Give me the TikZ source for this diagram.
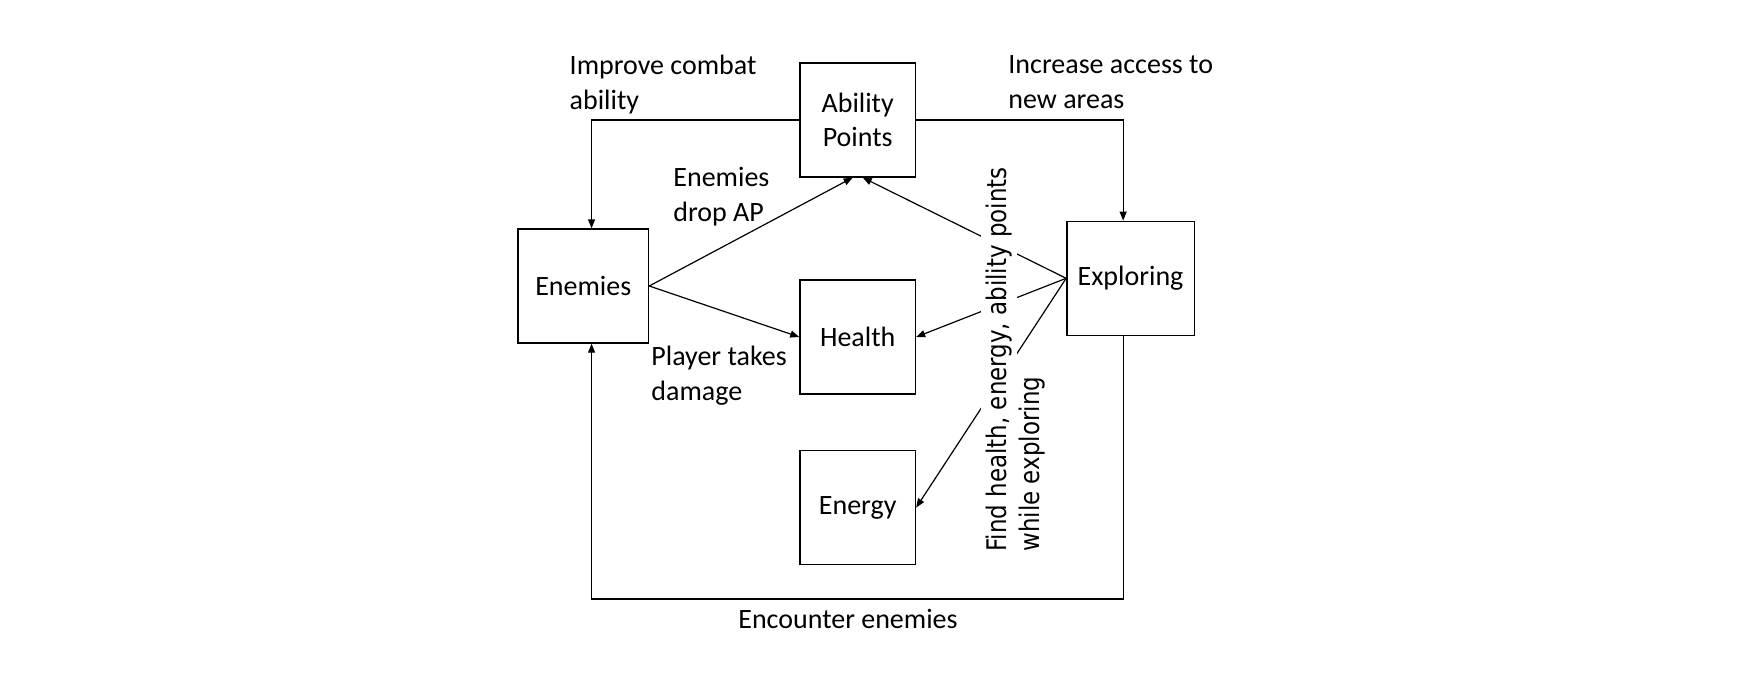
\documentclass[tikz,border=0pt]{standalone}
\usepackage{fontspec}
\setmainfont{Carlito}
\newfontfamily\rotfont[FakeStretch=0.85]{DejaVu Sans}
\usepackage{tikz}
\usetikzlibrary{arrows.meta,positioning}

\begin{document}
\begin{tikzpicture}[
    x=0.5pt, y=-0.5pt,
    every node/.style={font=\fontsize{14}{17.4}\selectfont},
    stat/.style={
      rectangle, draw, line width=0.7pt, inner sep=0pt,
      minimum width=57.75pt, minimum height=57pt,
      align=center
    },
    lbl/.style={inner sep=0pt, align=left},
    vlbl/.style={font=\rotfont\fontsize{13.5}{16}\selectfont, rotate=90,
      fill=white, inner xsep=0pt, inner ysep=2.5pt},
    arr/.style={-{Triangle[length=4.5pt,width=3.5pt]}, line width=0.6pt}
  ]
    \useasboundingbox (0,0) rectangle (1738,680);

    % ── Stats ──
    \node[stat] (ap) at (857.7,119.9) {Ability\\Points};
    \node[stat, below=50.85pt of ap] (health) {Health};
    \node[stat, below=27.6pt of health] (energy) {Energy};

    % ── Activities ──
    \node[stat, minimum width=65.3pt, left=75pt of health, yshift=25.5pt] (enemies) {Enemies};
    \node[stat, minimum width=63.7pt, right=75pt of health, yshift=29.35pt] (exploring) {Exploring};

    % ── Loops round the outside ──
    \draw[arr] (ap.west) -| ([xshift=4.15pt]enemies.north);
    \draw[arr] (ap.east) -| ([xshift=-3.7pt]exploring.north);
    \draw[arr] ([xshift=-3.7pt]exploring.south) -- ++(0,263) -| ([xshift=4.15pt]enemies.south);

    % ── Arrows: Enemies -> stats ──
    \draw[arr] (enemies.east) -- ([xshift=-2.5pt]ap.south);
    \draw[arr] (enemies.east) -- (health.west);

    % ── Arrows: Exploring -> stats ──
    \draw[arr] (exploring.west) -- ([xshift=2.5pt]ap.south);
    \draw[arr] (exploring.west) -- (health.east);
    \draw[arr] (exploring.west) -- (energy.east);

    % ── Labels ──
    \node[lbl, anchor=north west] (improvelbl) at (569.3,54.5) {Improve combat\\ability};
    \node[lbl, anchor=north west] (increaselbl) at (1008,55) {Increase access to\\new areas};
    \node[lbl, anchor=north west] (droplbl) at (673,167) {Enemies\\drop AP};
    \node[lbl, anchor=north west] (damagelbl) at (651,345.5) {Player takes\\damage};
    \node[lbl, anchor=north] (encounterlbl) at (848,608.5) {Encounter enemies};
    \node[vlbl, anchor=base west] (whilelbl) at (1039,552) {while exploring};
    \node[vlbl, anchor=base west] (findlbl) at (1006,552) {Find health, energy, ability points};

  \end{tikzpicture}
\end{document}
